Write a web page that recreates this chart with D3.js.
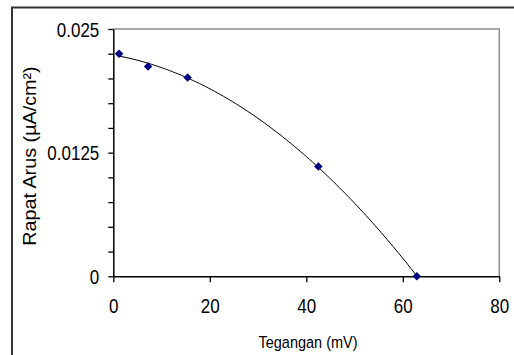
<!DOCTYPE html>
<html>
<head>
<meta charset="utf-8">
<script src="https://cdn.jsdelivr.net/npm/d3@7"></script>
<style>
  body { margin: 0; background: #fff; }
  text { font-family: "Liberation Sans", Arial, sans-serif; fill: #000; }
</style>
</head>
<body>
<div id="chart-area"></div>
<script>
// Data
const voltage = [1.2, 7.2, 15.4, 42.5, 62.9]
const currentDensity = [0.0225, 0.0212, 0.0201, 0.0111, 0]
const xTicks = [0, 20, 40, 60, 80]
const yTicks = [0, 0.0025, 0.005, 0.0075, 0.01, 0.0125, 0.015, 0.0175, 0.02, 0.0225, 0.025]
const yLabelTicks = [0, 0.0125, 0.025]
const yTickLabels = ["0", "0.0125", "0.025"]

const MARGIN = { LEFT: 113.3, RIGHT: 14.7, TOP: 29, BOTTOM: 78.7 }
const W = 514, H = 355
const WIDTH = W - MARGIN.LEFT - MARGIN.RIGHT
const HEIGHT = H - MARGIN.TOP - MARGIN.BOTTOM
const STRETCH = 1.18

const svg = d3.select("#chart-area").append("svg")
    .attr("width", W)
    .attr("height", H)

// outer chart frame
svg.append("rect")
    .attr("x", 12).attr("y", 7.5)
    .attr("width", 600).attr("height", 400)
    .attr("fill", "none")
    .attr("stroke", "#333")
    .attr("stroke-width", 2)

const g = svg.append("g")
    .attr("transform", `translate(${MARGIN.LEFT}, ${MARGIN.TOP})`)

// Scales
const x = d3.scaleLinear().domain([0, 80]).range([0, WIDTH])
const y = d3.scaleLinear().domain([0, 0.025]).range([HEIGHT, 0])

// plot area top/right border
g.append("path")
    .attr("d", `M0,0H${WIDTH}V${HEIGHT}`)
    .attr("fill", "none")
    .attr("stroke", "#8c8c8c")
    .attr("stroke-width", 1.5)

// X Axis
const xAxisCall = d3.axisBottom(x).tickValues(xTicks).tickSize(6).tickSizeOuter(0)
const xAxis = g.append("g")
    .attr("transform", `translate(0, ${HEIGHT})`)
    .call(xAxisCall)
xAxis.select(".domain").attr("stroke-width", 1.5)
xAxis.selectAll(".tick line").attr("stroke-width", 1.3)
xAxis.selectAll("text")
    .attr("y", 0).attr("dy", 0)
    .attr("font-size", 17)
    .attr("transform", `translate(0, 36.4) scale(1, ${STRETCH})`)

// Y Axis
const yAxisCall = d3.axisLeft(y).tickValues(yTicks).tickSize(5).tickSizeOuter(0)
    .tickFormat(d => {
        const i = yLabelTicks.findIndex(v => Math.abs(v - d) < 1e-9)
        return i >= 0 ? yTickLabels[i] : ""
    })
const yAxis = g.append("g").call(yAxisCall)
yAxis.select(".domain").attr("stroke-width", 1.5)
yAxis.selectAll(".tick line").attr("stroke-width", 1.3)
yAxis.selectAll("text")
    .attr("x", 0).attr("dy", 0)
    .attr("font-size", 17)
    .attr("text-anchor", "end")
    .attr("transform", `translate(-14, 7) scale(1, ${STRETCH})`)
svg.selectAll(".tick text").attr("font-family", "'Liberation Sans', Arial, sans-serif")

// Labels
svg.append("text")
    .attr("transform", `translate(308, 348) scale(1, 1.2)`)
    .attr("font-size", 14.5)
    .attr("text-anchor", "middle")
    .text("Tegangan (mV)")
svg.append("text")
    .attr("transform", `translate(35.5, 156) rotate(-90) scale(1.13, 1)`)
    .attr("font-size", 17.5)
    .attr("text-anchor", "middle")
    .text("Rapat Arus (µA/cm²)")

// 2nd order polynomial trendline (least squares), like the spreadsheet one
function polyFit2(xs, ys) {
    const S = k => d3.sum(xs, v => Math.pow(v, k))
    const T = k => d3.sum(xs, (v, i) => Math.pow(v, k) * ys[i])
    const A = [[S(0), S(1), S(2)], [S(1), S(2), S(3)], [S(2), S(3), S(4)]]
    const B = [T(0), T(1), T(2)]
    // gaussian elimination
    for (let i = 0; i < 3; i++) {
        for (let j = i + 1; j < 3; j++) {
            const f = A[j][i] / A[i][i]
            for (let k = i; k < 3; k++) A[j][k] -= f * A[i][k]
            B[j] -= f * B[i]
        }
    }
    const c = [0, 0, 0]
    for (let i = 2; i >= 0; i--) {
        let s = B[i]
        for (let k = i + 1; k < 3; k++) s -= A[i][k] * c[k]
        c[i] = s / A[i][i]
    }
    return c
}
const coef = polyFit2(voltage, currentDensity)
const [xMin, xMax] = d3.extent(voltage)
const trend = d3.range(0, 101).map(i => {
    const v = xMin + (xMax - xMin) * i / 100
    return [v, coef[0] + coef[1] * v + coef[2] * v * v]
})
g.append("path")
    .datum(trend)
    .attr("fill", "none")
    .attr("stroke", "#000")
    .attr("stroke-width", 1)
    .attr("d", d3.line().x(d => x(d[0])).y(d => y(d[1])))

// markers
const points = voltage.map((v, i) => ({ v, j: currentDensity[i] }))
g.selectAll(".marker")
    .data(points)
    .enter().append("path")
    .attr("class", "marker")
    .attr("d", d3.symbol(d3.symbolSquare, 36))
    .attr("transform", d => `translate(${x(d.v)}, ${y(d.j)}) rotate(45)`)
    .attr("fill", "#000080")
</script>
</body>
</html>
